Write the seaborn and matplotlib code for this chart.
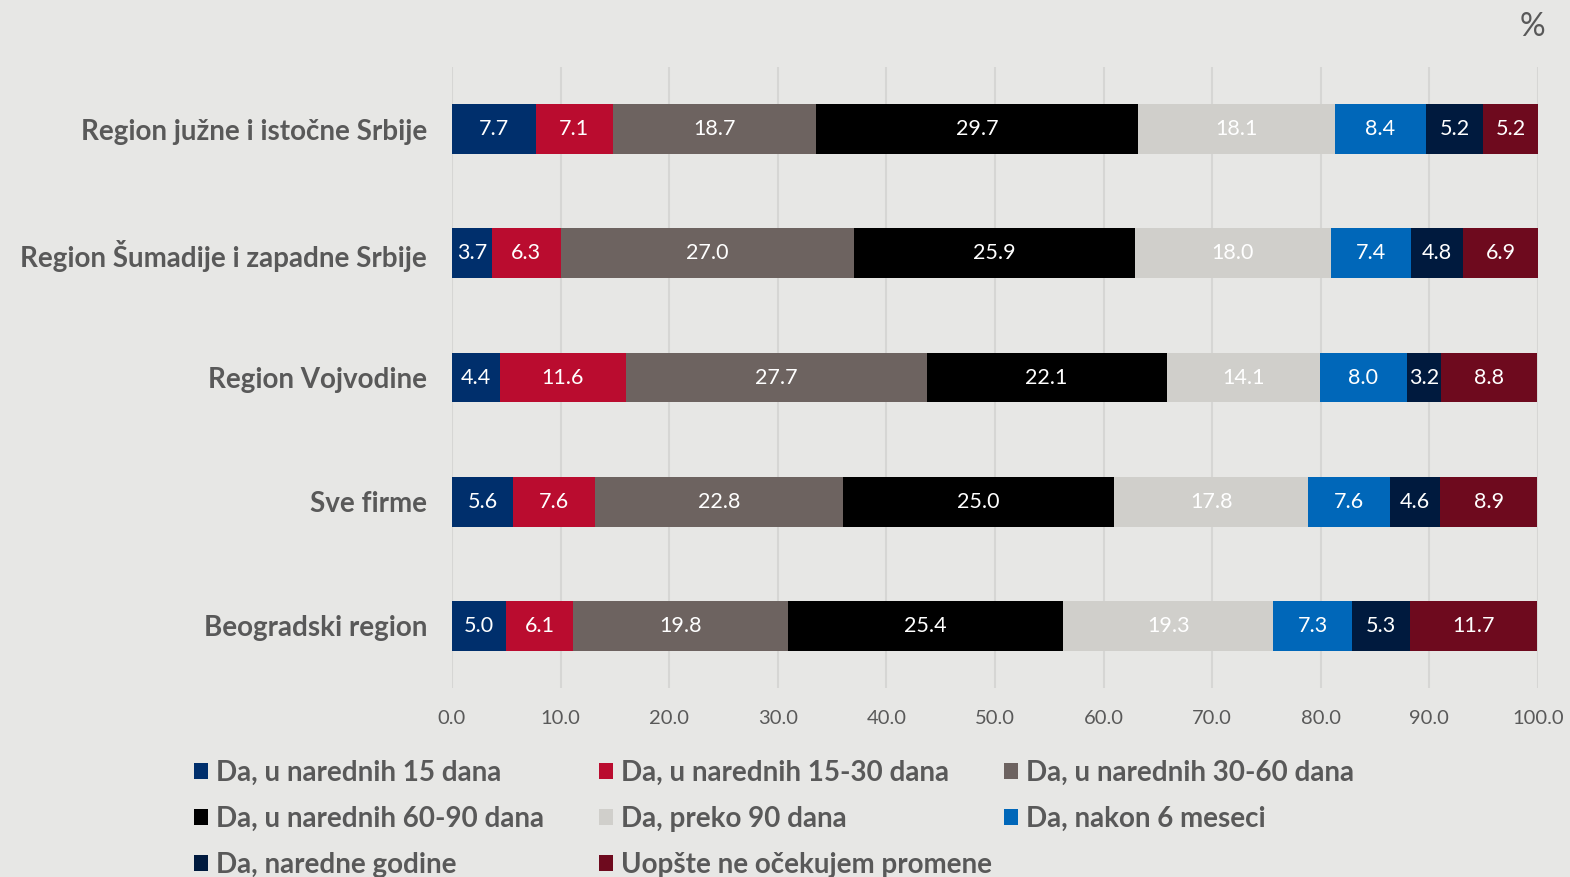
import matplotlib
matplotlib.use("Agg")
import matplotlib.pyplot as plt
import seaborn as sns
import pandas as pd
import numpy as np
from matplotlib.patches import Patch

regions = ["Region južne i istočne Srbije", "Region Šumadije i zapadne Srbije",
           "Region Vojvodine", "Sve firme", "Beogradski region"]
series = ["Da, u narednih 15 dana", "Da, u narednih 15-30 dana", "Da, u narednih 30-60 dana",
          "Da, u narednih 60-90 dana", "Da, preko 90 dana", "Da, nakon 6 meseci",
          "Da, naredne godine", "Uopšte ne očekujem promene"]
s15 = [7.7, 3.7, 4.4, 5.6, 5.0]
s15_30 = [7.1, 6.3, 11.6, 7.6, 6.1]
s30_60 = [18.7, 27.0, 27.7, 22.8, 19.8]
s60_90 = [29.7, 25.9, 22.1, 25.0, 25.4]
s90 = [18.1, 18.0, 14.1, 17.8, 19.3]
s6m = [8.4, 7.4, 8.0, 7.6, 7.3]
sgod = [5.2, 4.8, 3.2, 4.6, 5.3]
sne = [5.2, 6.9, 8.8, 8.9, 11.7]
values = [s15, s15_30, s30_60, s60_90, s90, s6m, sgod, sne]
colors = ["#002F6C", "#BA0C2F", "#6D6360", "#000000", "#D0CFCB", "#0067B9", "#001A3E", "#6E0A1E"]

BG = "#E7E7E5"
TXT = "#595959"
sns.set_theme(style="white")
plt.rcParams["font.family"] = ["Lato", "DejaVu Sans"]

fig = plt.figure(figsize=(15.7, 8.77), dpi=100, facecolor=BG)
ax = fig.add_axes([452/1570, 1-688/877, (1538-452)/1570, (688-67)/877])
ax.set_facecolor(BG)

df = pd.DataFrame(values, index=series, columns=regions).T
cum = df.cumsum(axis=1)
cum["region"] = regions

for i in range(len(series) - 1, -1, -1):
    sns.barplot(data=cum, y="region", x=series[i], color=colors[i], orient="h",
                width=0.4, ax=ax, linewidth=0, saturation=1, order=regions, zorder=3)

for i, s in enumerate(series):
    for j, r in enumerate(regions):
        v = df.loc[r, s]
        c = cum.loc[r, s] - v / 2
        ax.text(c, j, f"{v:.1f}", ha="center", va="center", color="white",
                fontsize=15.5, zorder=5)

ax.set_xlim(0, 100)
ax.set_ylim(4.5, -0.5)
ax.set_xticks(np.arange(0, 101, 10))
ax.set_xticklabels([f"{t:.1f}" for t in np.arange(0, 101, 10)], color=TXT, fontsize=14.5)
ax.tick_params(axis="x", length=0, pad=16)
ax.tick_params(axis="y", length=0, pad=18)
for lbl in ax.get_yticklabels():
    lbl.set_fontweight("bold")
    lbl.set_color(TXT)
    lbl.set_fontsize(20)
    lbl.set_va("center_baseline")
ax.set_xlabel("")
ax.set_ylabel("")
ax.grid(axis="x", color="#D6D6D4", linewidth=1.5, zorder=0)
ax.set_axisbelow(True)
for sp in ax.spines.values():
    sp.set_visible(False)

fig.text(1532/1570, 1-27/877, "%", ha="center", va="center", color=TXT, fontsize=23)

cols = [[0, 3, 6], [1, 4, 7], [2, 5]]
xs = [194, 599, 1004]
for col, x in zip(cols, xs):
    handles = [Patch(facecolor=colors[k], edgecolor="none") for k in col]
    labels = [series[k] for k in col]
    fig.legend(handles, labels, loc="upper left", bbox_to_anchor=(x/1570, 1-760/877),
               frameon=False, prop={"weight": "bold", "size": 20},
               labelcolor=TXT, handlelength=0.5, handleheight=0.5, handletextpad=0.3,
               labelspacing=0.72, borderpad=0, borderaxespad=0)

fig.savefig("out.png", dpi=100, facecolor=BG)
